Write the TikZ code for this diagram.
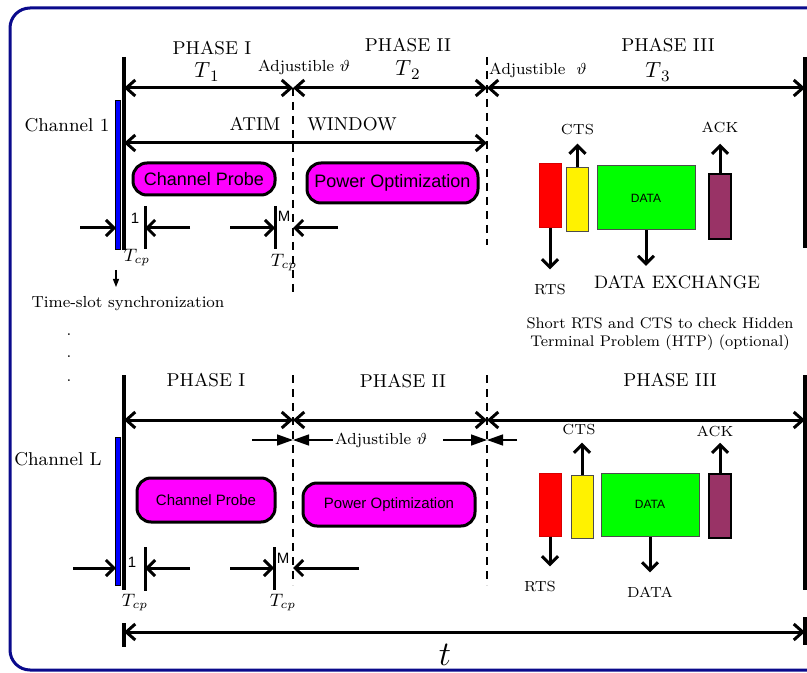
\documentclass[tikz,border=0pt]{standalone}
\usepackage{fontspec}
\newfontfamily\arialfont{Liberation Sans}
\usepackage{tikz}
\usetikzlibrary{arrows.meta, positioning}
\usepackage{xcolor}

\definecolor{framenavy}{RGB}{10,10,140}
\definecolor{ackpurple}{RGB}{153,51,102}
\definecolor{slotpink}{RGB}{255,0,255}

\begin{document}
\begin{tikzpicture}[
    x=0.5pt, y=-0.5pt,
    frame/.style = {draw=framenavy, line width=1.5pt, rounded corners=10pt},
    bound/.style = {line width=1.7pt},
    span/.style = {line width=1.5pt, >={Straight Barb[length=4.5pt,width=8pt]}, <->},
    tick/.style = {line width=1.5pt},
    tcp/.style = {line width=1.5pt, ->, >={Straight Barb[length=4pt,width=8pt]}},
    sig/.style = {line width=1.5pt, ->, >={Straight Barb[length=4pt,width=8pt]}},
    adjarrow/.style = {line width=0.7pt, ->, >={Triangle[length=8pt,width=5.5pt]}},
    syncarrow/.style = {line width=0.6pt, ->, >={Triangle[length=4pt,width=3pt]}},
    sep/.style = {dashed, dash pattern=on 4pt off 3pt, line width=0.8pt},
    slotbar/.style = {fill=blue, draw=black, line width=0.4pt},
    phase/.style = {font=\fontsize{9.3}{11}\selectfont},
    period/.style = {font=\fontsize{11}{13}\selectfont},
    adj/.style = {font=\fontsize{8}{9}\selectfont, inner sep=1pt},
    chan/.style = {font=\fontsize{9.3}{11}\selectfont},
    slotno/.style = {font=\arialfont\fontsize{7.5}{8}\selectfont, inner sep=0.5pt},
    tcptxt/.style = {font=\fontsize{9}{11}\selectfont},
    task/.style = {rectangle, rounded corners=7pt, draw=black, line width=1.5pt, fill=slotpink, inner sep=1pt},
    packet/.style = {rectangle, draw=black!70, line width=0.5pt, minimum width=11pt, minimum height=32pt, inner sep=0pt},
    sigtxt/.style = {font=\fontsize{7.3}{9}\selectfont, inner sep=1pt},
    note/.style = {font=\fontsize{7.7}{9}\selectfont, align=center}
]
\useasboundingbox (0,0) rectangle (807,673);
\draw [frame] (10,8) rectangle (850,670);

% Channel 1: time line
\coordinate (a0) at (124,88);
\coordinate (a1) at (293,88);
\coordinate (a2) at (487,88);
\coordinate (a3) at (805,88);
\draw [bound] (124,57) -- (124,250);
\draw [bound, line width=2pt] (805,57) -- (805,248);
\draw [sep] (a1) -- (293,292);
\draw [sep] (487,57) -- (487,245);
\draw [span] (a0) -- (a1);
\draw [span] (a1) -- (a2);
\draw [span] (a2) -- (a3);
\draw [span] (124,143) -- (487,143);

\node (chan1) [chan] at (67,125) {Channel 1};
\node (ph1a) [phase] at (212,48) {PHASE I};
\node (ph1b) [phase] at (408,45) {PHASE II};
\node (ph1c) [phase] at (668,45) {PHASE III};
\node (t1) [period] at (207,72) {$T_{\,1}$};
\node (t2) [period] at (408,70) {$T_{\,2}$};
\node (t3) [period] at (658,72) {$T_{\,3}$};
\node (adj1a) [adj] at (304,67) {Adjustible $\vartheta$};
\node (adj1b) [adj] at (538,70) {Adjustible\ \ $\vartheta$};
\node (atim) [phase] at (255,124) {ATIM};
\node (window) [phase] at (352,124) {WINDOW};

% Channel 1: probe and power slots
\node (probe1) [task, minimum width=71pt, minimum height=16pt, font=\arialfont\fontsize{9}{11}\selectfont] at (204,179) {Channel Probe};
\node (power1) [task, minimum width=85.5pt, minimum height=20pt, font=\arialfont\fontsize{9}{11}\selectfont] at (392.5,183) {Power Optimization};

\draw [slotbar] (115,100) rectangle (120.5,249);
\draw [tick] (145,206) -- (145,249);
\draw [tick] (275,206) -- (275,249);
\draw [tcp] (80,228) -- (116,228);
\draw [tcp] (190,228) -- (145,228);
\draw [tcp] (230,228) -- (275,228);
\draw [tcp] (338,228) -- (293,228);
\node (one1) [slotno] at (135,218) {1};
\node (em1) [slotno] at (284,216) {M};
\node (tcp1a) [tcptxt] at (137,258) {$T_{cp}$};
\node (tcp1b) [tcptxt] at (284,263) {$T_{cp}$};

\node (sync) [font=\fontsize{8}{10}\selectfont] at (128,304) {Time-slot synchronization};
\draw [syncarrow] (116,270) -- (116,287);
\foreach \y [count=\i] in {335,357,381}
    \node (dot\i) [font=\fontsize{8}{10}\selectfont, inner sep=0pt] at (69,\y) {.};

% Channel 1: data exchange
\node (rts1) [packet, fill=red, draw=red!85!black] at (550,196) {};
\node (cts1) [packet, fill=yellow] at (577.5,200) {};
\node (data1) [packet, fill=green, minimum width=49pt, font=\arialfont\fontsize{6}{7}\selectfont] at (646,198) {DATA};
\node (ack1) [packet, fill=ackpurple, draw=black, line width=1pt, minimum height=32.5pt] at (720,206.5) {};

\node (rtstxt1) [sigtxt] at (550,290) {RTS};
\node (ctstxt1) [sigtxt] at (577.5,130) {CTS};
\node (acktxt1) [sigtxt] at (720,127) {ACK};
\node (datatxt1) [font=\fontsize{9}{11}\selectfont, inner sep=1pt] at (677,282) {DATA EXCHANGE};
\draw [sig, shorten >=6.5pt] (rts1) -- (rtstxt1);
\draw [sig, shorten >=3pt] (cts1) -- (ctstxt1);
\draw [sig, shorten >=4.5pt] (ack1) -- (acktxt1);
\draw [sig, shorten >=3.5pt] (data1.south) -- (data1.south |- datatxt1.north);
\node (htp) [note] at (660,334) {Short RTS and CTS to check Hidden\\Terminal Problem (HTP) (optional)};

% Channel L: time line
\coordinate (b0) at (124,420);
\coordinate (b1) at (293,420);
\coordinate (b2) at (487,420);
\coordinate (b3) at (805,420);
\draw [bound] (124,375) -- (124,590);
\draw [bound, line width=2pt] (805,375) -- (805,590);
\draw [sep] (293,375) -- (293,585);
\draw [sep] (487,375) -- (487,585);
\draw [span] (b0) -- (b1);
\draw [span] (b1) -- (b2);
\draw [span] (b2) -- (b3);

\node (chanL) [chan] at (58,459) {Channel L};
\node (phLa) [phase] at (206,380) {PHASE I};
\node (phLb) [phase] at (403,381) {PHASE II};
\node (phLc) [phase] at (670,380) {PHASE III};

\node (adjL) [adj] at (381,440) {Adjustible $\vartheta$};
\draw [adjarrow] (252,440) -- (293,440);
\draw [adjarrow] (adjL.west) -- (293,440);
\draw [adjarrow] (443,440) -- (487,440);
\draw [adjarrow] (517,440) -- (487,440);

% Channel L: probe and power slots
\node (probeL) [task, minimum width=69pt, minimum height=22pt, font=\arialfont\fontsize{7.5}{9}\selectfont] at (206,500) {Channel Probe};
\node (powerL) [task, minimum width=86pt, minimum height=21.5pt, font=\arialfont\fontsize{7.5}{9}\selectfont] at (389,504.5) {Power Optimization};

\draw [slotbar] (115,437) rectangle (120.5,585);
\draw [tick] (145,547) -- (145,591);
\draw [tick] (274,547) -- (274,590);
\draw [tcp] (73,568) -- (116,568);
\draw [tcp] (190,568) -- (145,568);
\draw [tcp] (230,568) -- (274,568);
\draw [tcp] (359,568) -- (293,568);
\node (oneL) [slotno] at (132,562) {1};
\node (emL) [slotno] at (283,558) {M};
\node (tcpLa) [tcptxt] at (135,603) {$T_{cp}$};
\node (tcpLb) [tcptxt] at (283,603) {$T_{cp}$};

% Channel L: data exchange
\node (rtsL) [packet, fill=red, draw=red!85!black, minimum height=31.5pt] at (550,504.5) {};
\node (ctsL) [packet, fill=yellow, minimum height=31.5pt] at (582,506.5) {};
\node (dataL) [packet, fill=green, minimum width=49pt, minimum height=31.5pt, font=\arialfont\fontsize{6}{7}\selectfont] at (650,504.5) {DATA};
\node (ackL) [packet, fill=ackpurple, draw=black, line width=1pt] at (720,506) {};

\node (rtstxtL) [sigtxt] at (540,587) {RTS};
\node (ctstxtL) [sigtxt] at (579,430) {CTS};
\node (acktxtL) [sigtxt] at (715,431) {ACK};
\node (datatxtL) [sigtxt] at (650,592) {DATA};
\draw [sig, shorten >=6.5pt] (rtsL.south) -- (rtsL.south |- rtstxtL.north);
\draw [sig, shorten >=2.5pt] (ctsL.north) -- (ctsL.north |- ctstxtL.south);
\draw [sig, shorten >=2pt] (ackL.north) -- (ackL.north |- acktxtL.south);
\draw [sig, shorten >=6pt] (dataL) -- (datatxtL);

% Overall time axis
\coordinate (c0) at (124,632);
\coordinate (c1) at (805,632);
\draw [bound] (124,623) -- (124,647);
\draw [bound, line width=2pt] (805,617) -- (805,645);
\draw [span] (c0) -- (c1);
\node (tlbl) [font=\fontsize{19}{22}\selectfont] at (445,655) {$t$};

\end{tikzpicture}
\end{document}
